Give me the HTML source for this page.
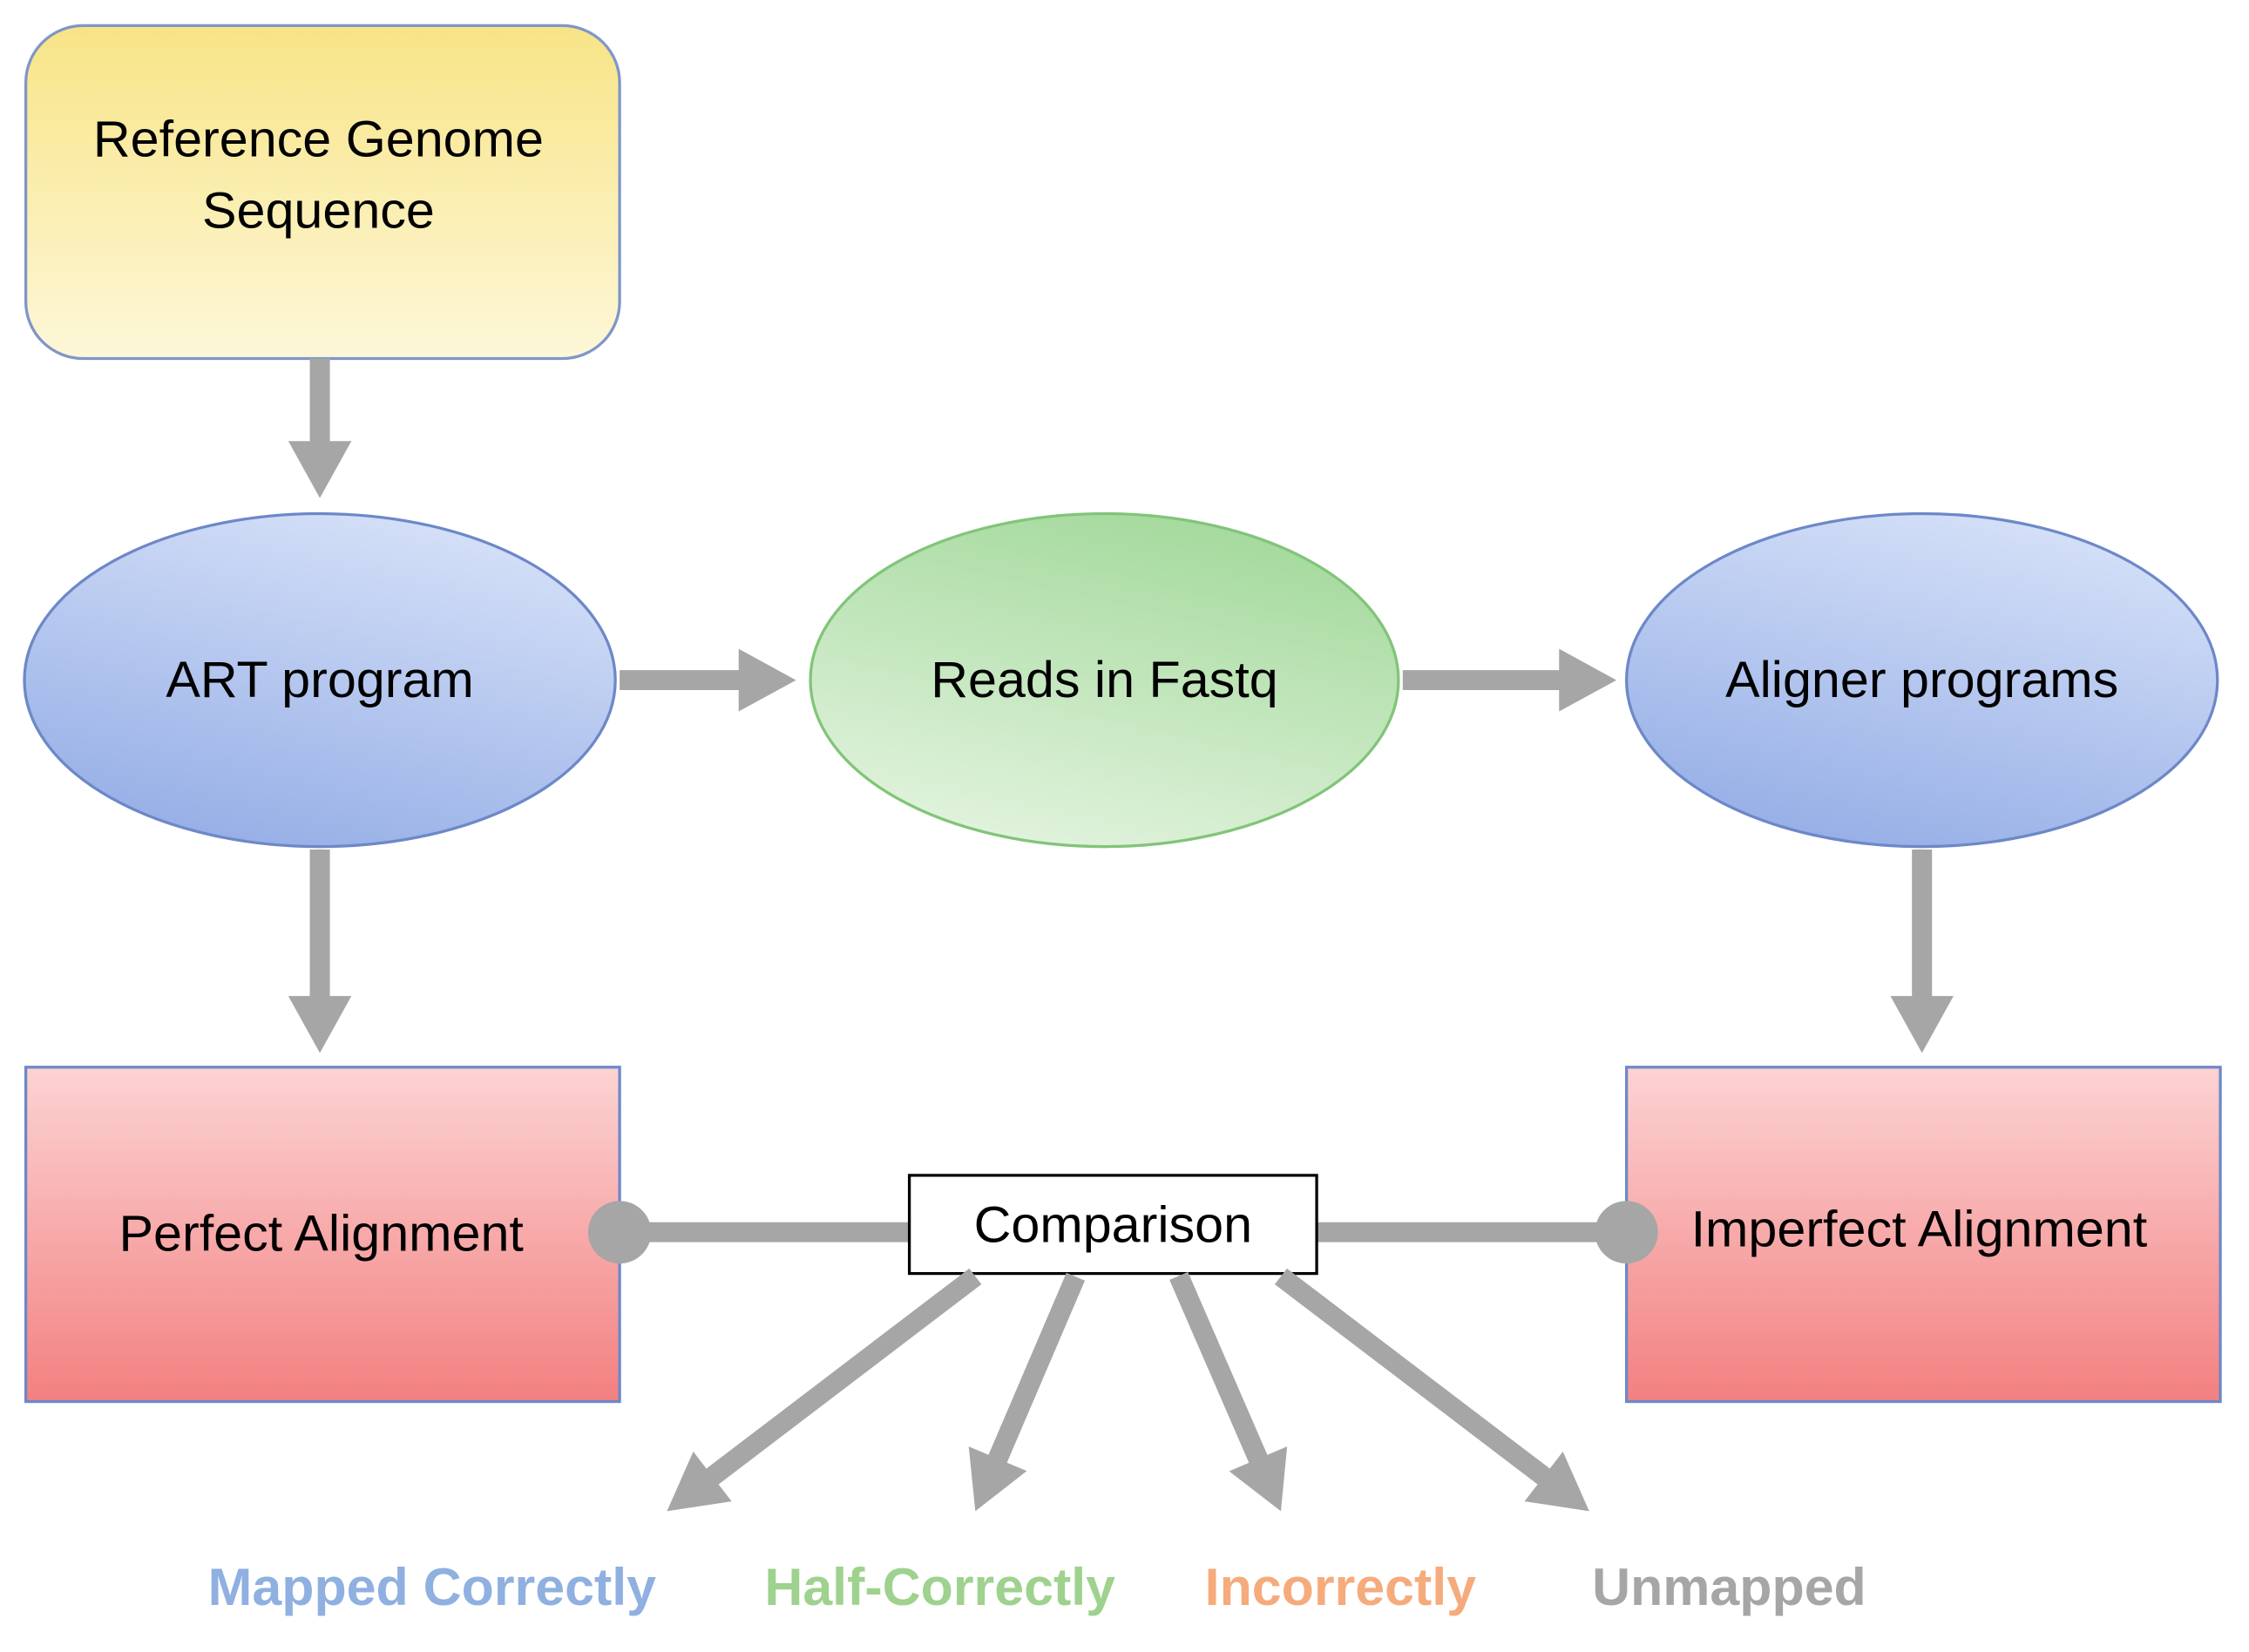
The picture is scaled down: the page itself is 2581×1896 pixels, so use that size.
<!DOCTYPE html>
<html><head><meta charset="utf-8"><style>
html,body{margin:0;padding:0;background:#fff;}
svg{display:block;}
text{font-family:"Liberation Sans",sans-serif;}
</style></head><body>
<svg width="2581" height="1896" viewBox="0 0 1568 1161" preserveAspectRatio="none" xmlns="http://www.w3.org/2000/svg">
<defs>
<linearGradient id="yel" x1="0" y1="0" x2="0" y2="1"><stop offset="0" stop-color="#f8e486"/><stop offset="1" stop-color="#fdf7d8"/></linearGradient>
<linearGradient id="blu" x1="0.3" y1="1" x2="0.7" y2="0"><stop offset="0" stop-color="#95aee6"/><stop offset="1" stop-color="#d6e1f8"/></linearGradient>
<linearGradient id="grn" x1="0.3" y1="1" x2="0.7" y2="0"><stop offset="0" stop-color="#e2f3de"/><stop offset="1" stop-color="#a3d99b"/></linearGradient>
<linearGradient id="red" x1="0" y1="0" x2="0" y2="1"><stop offset="0" stop-color="#fcd3d3"/><stop offset="1" stop-color="#f38080"/></linearGradient>
<g id="arr"><polygon points="0,0 -40,-22 -40,22" fill="#a6a6a6"/></g>
</defs>
<rect x="18" y="18" width="414" height="234" rx="40" fill="url(#yel)" stroke="#7f96c8" stroke-width="2"/>
<text x="222" y="110" font-size="36" text-anchor="middle">Reference Genome</text>
<text x="222" y="160" font-size="36" text-anchor="middle">Sequence</text>
<ellipse cx="223" cy="478" rx="206" ry="117" fill="url(#blu)" stroke="#6d88c8" stroke-width="2"/>
<text x="223" y="490" font-size="36" text-anchor="middle">ART program</text>
<ellipse cx="770" cy="478" rx="205" ry="117" fill="url(#grn)" stroke="#82c47a" stroke-width="2"/>
<text x="770" y="490" font-size="36" text-anchor="middle">Reads in Fastq</text>
<ellipse cx="1340" cy="478" rx="206" ry="117" fill="url(#blu)" stroke="#6d88c8" stroke-width="2"/>
<text x="1340" y="490" font-size="36" text-anchor="middle">Aligner programs</text>
<rect x="18" y="750" width="414" height="235" fill="url(#red)" stroke="#6d88c8" stroke-width="2"/>
<text x="224" y="879" font-size="36" text-anchor="middle">Perfect Alignment</text>
<rect x="1134" y="750" width="414" height="235" fill="url(#red)" stroke="#6d88c8" stroke-width="2"/>
<text x="1338" y="876" font-size="36" text-anchor="middle">Imperfect Alignment</text>
<line x1="432" y1="866" x2="634" y2="866" stroke="#a6a6a6" stroke-width="14"/>
<line x1="918" y1="866" x2="1134" y2="866" stroke="#a6a6a6" stroke-width="14"/>
<circle cx="432" cy="866" r="22" fill="#a6a6a6"/>
<circle cx="1134" cy="866" r="22" fill="#a6a6a6"/>
<rect x="634" y="826" width="284" height="69" fill="#fff" stroke="#000" stroke-width="2"/>
<text x="776" y="873" font-size="36" text-anchor="middle">Comparison</text>
<g stroke="#a6a6a6" stroke-width="14">
<g transform="translate(223,350) rotate(90)"><line x1="-98" y1="0" x2="-36" y2="0"/><use href="#arr" stroke="none"/></g>
<g transform="translate(223,740) rotate(90)"><line x1="-143" y1="0" x2="-36" y2="0"/><use href="#arr" stroke="none"/></g>
<g transform="translate(1340,740) rotate(90)"><line x1="-143" y1="0" x2="-36" y2="0"/><use href="#arr" stroke="none"/></g>
<g transform="translate(555,478)"><line x1="-123" y1="0" x2="-36" y2="0"/><use href="#arr" stroke="none"/></g>
<g transform="translate(1127,478)"><line x1="-149" y1="0" x2="-36" y2="0"/><use href="#arr" stroke="none"/></g>
<g transform="translate(465,1062) rotate(142.5)"><line x1="-271" y1="0" x2="-36" y2="0"/><use href="#arr" stroke="none"/></g>
<g transform="translate(680,1062) rotate(113)"><line x1="-179" y1="0" x2="-36" y2="0"/><use href="#arr" stroke="none"/></g>
<g transform="translate(893,1062) rotate(66.7)"><line x1="-180" y1="0" x2="-36" y2="0"/><use href="#arr" stroke="none"/></g>
<g transform="translate(1108,1062) rotate(37.5)"><line x1="-271" y1="0" x2="-36" y2="0"/><use href="#arr" stroke="none"/></g>
</g>
<g font-size="37" font-weight="bold">
<text x="145" y="1128" fill="#8fb0e0">Mapped Correctly</text>
<text x="533" y="1128" fill="#9ed28e">Half-Correctly</text>
<text x="840" y="1128" fill="#f6ab7c">Incorrectly</text>
<text x="1110" y="1128" fill="#a6a6a6">Unmapped</text>
</g>
</svg>
</body></html>
